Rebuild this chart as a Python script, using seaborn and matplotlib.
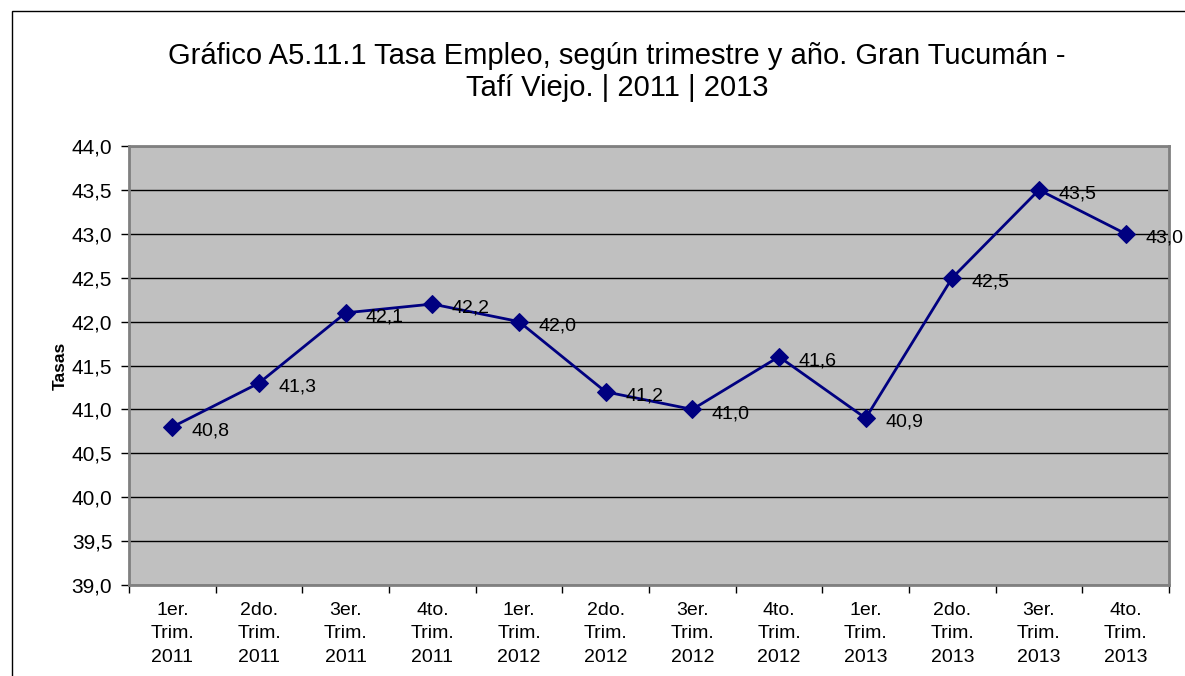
import matplotlib
matplotlib.use("Agg")
import matplotlib.pyplot as plt
import seaborn as sns
import numpy as np
import pandas as pd
from matplotlib.patches import Rectangle

trimestres = ["1er.", "2do.", "3er.", "4to."] * 3
anios = ["2011"] * 4 + ["2012"] * 4 + ["2013"] * 4
tasas = [40.8, 41.3, 42.1, 42.2, 42.0, 41.2, 41.0, 41.6, 40.9, 42.5, 43.5, 43.0]

etiquetas = ["{}\nTrim.\n{}".format(t, a) for t, a in zip(trimestres, anios)]
df = pd.DataFrame({"pos": np.arange(len(tasas)), "tasa": tasas})

sns.set_style("white")
plt.rcParams['font.family'] = ['Liberation Sans', 'DejaVu Sans']
plt.rcParams['text.color'] = 'black'
plt.rcParams['xtick.color'] = 'black'
plt.rcParams['ytick.color'] = 'black'
plt.rcParams['axes.labelcolor'] = 'black'

fig = plt.figure(figsize=(11.85, 6.76), dpi=100)
ax = fig.add_axes([129 / 1185, 1 - 585 / 676, 1040 / 1185, 439 / 676])
ax.set_facecolor("#c0c0c0")

# outer chart frame
fig.patches.append(Rectangle((12 / 1185, -0.1), 1.2, 1 - 11 / 676 + 0.1,
                             transform=fig.transFigure, fill=False,
                             edgecolor="black", linewidth=1))

sns.lineplot(data=df, x="pos", y="tasa", ax=ax, color="#000080",
             marker="D", markersize=9, linewidth=2, markeredgecolor="#000080")

for x, y in zip(df["pos"], df["tasa"]):
    ax.annotate("{:.1f}".format(y).replace(".", ","), (x, y),
                xytext=(14, -3), textcoords="offset points",
                ha="left", va="center", fontsize=14, color="black")

ax.set_xlim(-0.5, len(tasas) - 0.5)
ax.set_ylim(39, 44)
yt = np.arange(39, 44.01, 0.5)
ax.set_yticks(yt)
ax.set_yticklabels(["{:.1f}".format(v).replace(".", ",") for v in yt], fontsize=15)
ax.set_xticks(np.arange(len(tasas)))
ax.set_xticklabels(etiquetas, fontsize=14, linespacing=1.5)
ax.set_xticks(np.arange(-0.5, len(tasas)), minor=True)
ax.tick_params(axis="x", which="major", length=0, pad=12)
ax.tick_params(axis="x", which="minor", length=6, width=1, color="black", direction="out", bottom=True)
ax.tick_params(axis="y", length=6, width=1, color="black", direction="out", left=True, pad=6)

ax.grid(axis="y", color="black", linewidth=1)
ax.set_axisbelow(True)
for s in ax.spines.values():
    s.set_color("#808080")
    s.set_linewidth(2)

ax.set_xlabel("")
ax.set_ylabel("Tasas", fontsize=12.5, fontweight="bold", labelpad=3)
fig.text(617 / 1185, 1 - 72 / 676,
         "Gráfico A5.11.1 Tasa Empleo, según trimestre y año. Gran Tucumán -\nTafí Viejo. | 2011 | 2013",
         ha="center", va="center", fontsize=21, linespacing=1.15)

fig.savefig("out.png", dpi=100)
